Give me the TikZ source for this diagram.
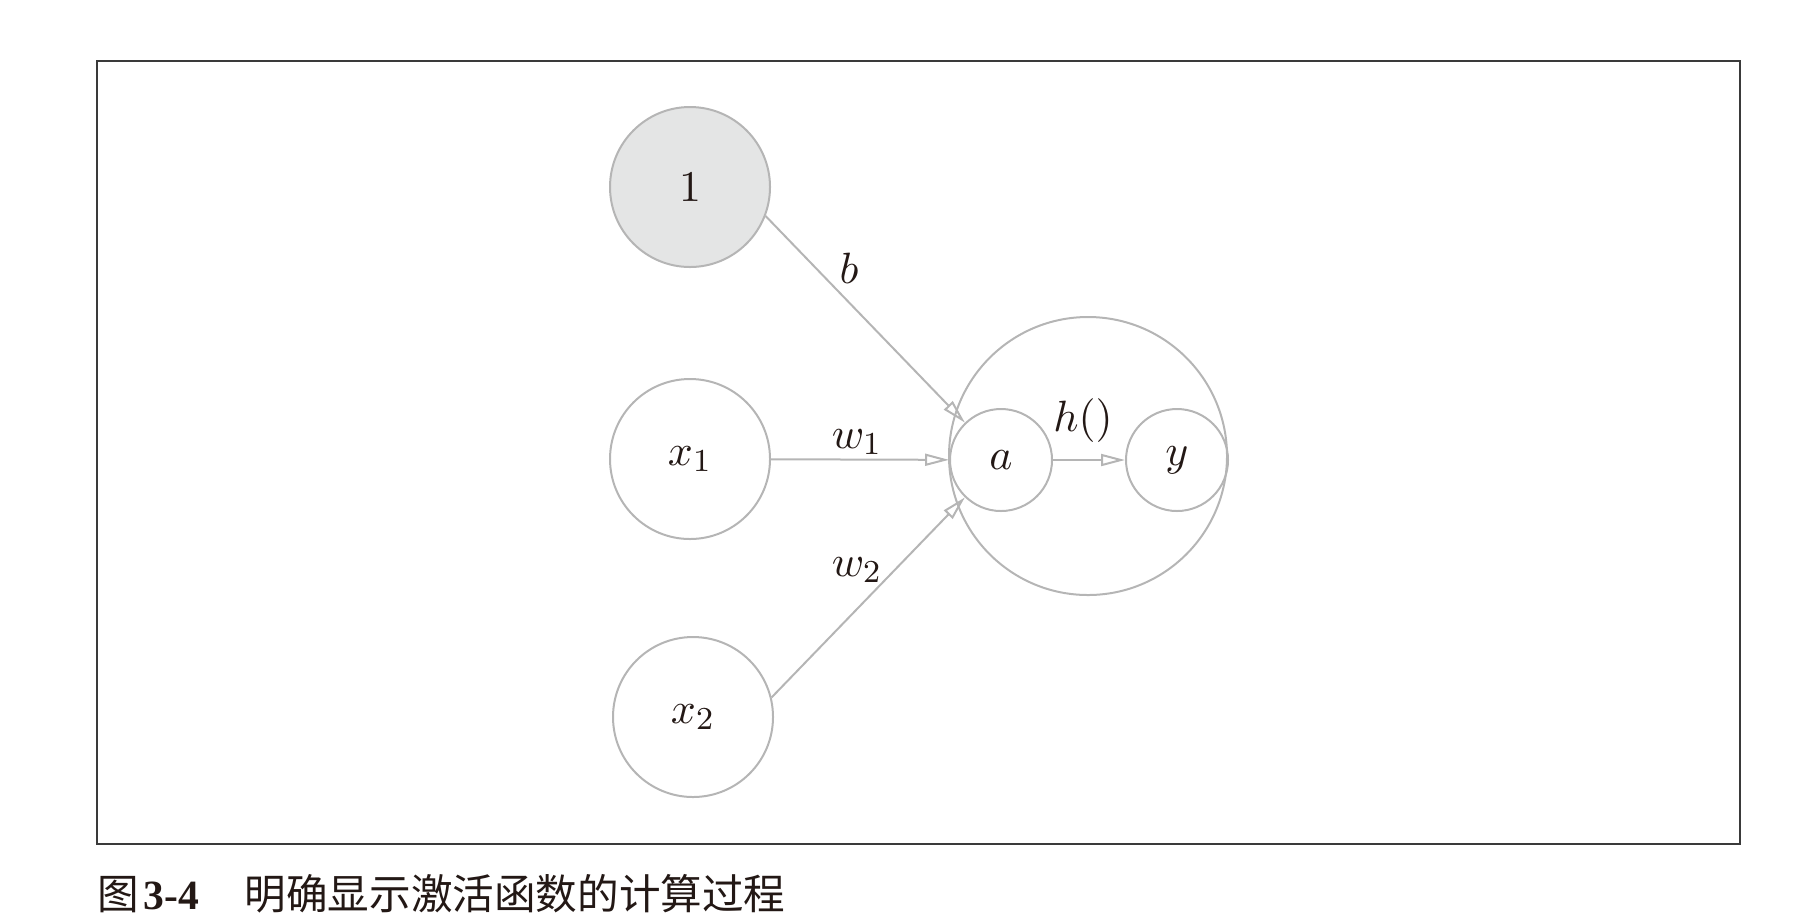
\documentclass[tikz,border=0pt]{standalone}
\usepackage{fontspec}
\newfontfamily\cjk{Noto Sans CJK SC}
\newfontfamily\capnum{Liberation Serif}
\usetikzlibrary{arrows.meta}
\definecolor{edgegray}{HTML}{B5B5B5}
\definecolor{shade}{HTML}{E4E5E5}
\definecolor{ink}{HTML}{231815}
\definecolor{framecol}{HTML}{3A3A3A}
\begin{document}
\begin{tikzpicture}[x=0.25pt,y=-0.25pt,
  neuron/.style={circle,draw=edgegray,line width=0.5pt,inner sep=0pt,minimum size=40pt,text=ink,font=\fontsize{11}{13}\selectfont},
  smallneuron/.style={neuron,minimum size=25.5pt},
  conn/.style={draw=edgegray,line width=0.5pt,-{Triangle[open,length=6pt,width=3pt]}},
  lbl/.style={text=ink,font=\fontsize{11}{13}\selectfont,inner sep=0pt}]
\useasboundingbox (0,0) rectangle (1796,923);
\draw[framecol,line width=0.5pt] (97,61) rectangle (1740,844);
\node[neuron,fill=shade] (n1) at (690,187) {$1$};
\node[neuron] (x1) at (690,459) {$x_1$};
\node[neuron] (x2) at (693,717) {$x_2$};
\node[neuron,minimum size=69.5pt] (big) at (1088,456) {};
\node[smallneuron] (a) at (1001,460) {$a$};
\node[smallneuron] (y) at (1177,460) {$y$};
\draw[conn] (n1.-21) -- (a);
\draw[conn] (x1) -- (a);
\draw[conn] (x2.14) -- (a);
\draw[conn] (a) -- (y);
\node[lbl] (lb) at (849,268) {$b$};
\node[lbl] (lw1) at (857,442) {$w_1$};
\node[lbl] (lw2) at (857,570) {$w_2$};
\node[lbl] (lh) at (1083,421) {$h()$};
\node[anchor=west,inner sep=0pt,text=ink] (cap) at (97,894) {\fontsize{10.4}{12}\selectfont\cjk 图\hspace{0.1em}{\capnum\bfseries 3-4}\hspace{1.1em}明确显示激活函数的计算过程};
\end{tikzpicture}
\end{document}
